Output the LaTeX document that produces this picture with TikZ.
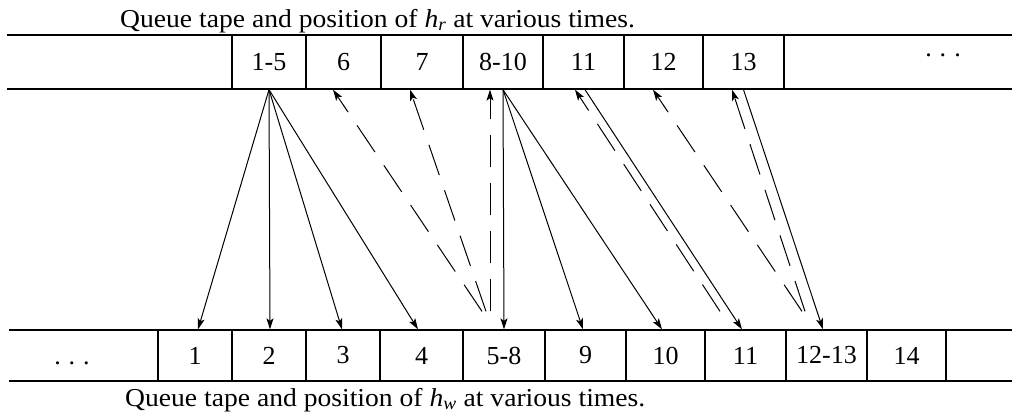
\documentclass[tikz,border=0pt]{standalone}
\usepackage{fontspec}
\setmainfont{Liberation Serif}
\newfontfamily\titlefont[FakeStretch=1.07]{Liberation Serif}
\usetikzlibrary{arrows.meta}
\begin{document}
\begin{tikzpicture}[x=1pt,y=-1pt,
  tapeline/.style={line width=1.3pt},
  cellA/.style={draw, line width=1.3pt, minimum height=54pt, inner sep=0pt, font=\fontsize{26}{29}\selectfont},
  cellB/.style={draw, line width=1.3pt, minimum height=51pt, inner sep=0pt, font=\fontsize{26}{29}\selectfont},
  wr/.style={line width=1pt, -{Stealth[length=11pt,width=7pt,inset=2.5pt]}},
  rd/.style={line width=1pt, dash pattern=on 32pt off 16pt, -{Stealth[length=11pt,width=7pt,inset=2.5pt]}},
  tapecaption/.style={anchor=base west, inner sep=0pt, font=\titlefont\fontsize{25.8}{29}\selectfont},
  dotsnode/.style={anchor=base, inner sep=0pt, font=\fontsize{26}{29}\selectfont}]
\useasboundingbox (0,0) rectangle (1012,413);
% tapes
\draw[tapeline] (7,35) -- (1012,35);
\draw[tapeline] (7,89) -- (1012,89);
\draw[tapeline] (9,330) -- (1012,330);
\draw[tapeline] (9,381) -- (1012,381);
% top cells
\node[cellA, minimum width=74pt] (t15) at (269,62) {1-5};
\node[cellA, minimum width=75pt] (t6) at (343.5,62) {6};
\node[cellA, minimum width=82pt] (t7) at (422,62) {7};
\node[cellA, minimum width=80pt] (t810) at (503,62) {8-10};
\node[cellA, minimum width=81pt] (t11) at (583.5,62) {11};
\node[cellA, minimum width=79pt] (t12) at (663.5,62) {12};
\node[cellA, minimum width=81pt] (t13) at (743.5,62) {13};
\node[dotsnode] (tdots) at (943,56) {.\hspace{8pt}.\hspace{8pt}.};
% bottom cells
\node[cellB, minimum width=74pt] (b1) at (195,355.5) {1};
\node[cellB, minimum width=74pt] (b2) at (269,355.5) {2};
\node[cellB, minimum width=74pt] (b3) at (343,355.5) {3};
\node[cellB, minimum width=83pt] (b4) at (421.5,355.5) {4};
\node[cellB, minimum width=82pt] (b58) at (504,355.5) {5-8};
\node[cellB, minimum width=81pt] (b9) at (585.5,355.5) {9};
\node[cellB, minimum width=79pt] (b10) at (665.5,355.5) {10};
\node[cellB, minimum width=81pt] (b11) at (745.5,355.5) {11};
\node[cellB, minimum width=81pt] (b1213) at (826.5,355.5) {12-13};
\node[cellB, minimum width=79pt] (b14) at (906.5,355.5) {14};
\node[dotsnode] (bdots) at (72,364) {.\hspace{8pt}.\hspace{8pt}.};
% captions
\node[tapecaption] (ctop) at (120,27) {Queue tape and position of \textit{h}\textsubscript{\textit{r}} at various times.};
\node[tapecaption] (cbot) at (125,406) {Queue tape and position of \textit{h}\textsubscript{\textit{w}} at various times.};
% solid (write) arrows
\draw[wr] (t15.south) -- ([xshift=3pt]b1.north);
\draw[wr] (t15.south) -- ([xshift=1pt]b2.north);
\draw[wr] (t15.south) -- ([xshift=-1pt]b3.north);
\draw[wr] (t15.south) -- ([xshift=-3.5pt]b4.north);
\draw[wr] (t810.south) -- (b58.north);
\draw[wr] (t810.south) -- ([xshift=-2.5pt]b9.north);
\draw[wr] (t810.south) -- ([xshift=-3.5pt]b10.north);
\draw[wr] ([xshift=1.5pt]t11.south) -- ([xshift=-3.5pt]b11.north);
\draw[wr] (t13.south) -- ([xshift=-3.5pt]b1213.north);
% dashed (read) arrows
\draw[rd] ([shift={(-22,-18)}]b58.north) -- ([xshift=-10.5pt]t6.south);
\draw[rd] ([shift={(-18,-18)}]b58.north) -- ([xshift=-12pt]t7.south);
\draw[rd] ([shift={(-14,-18)}]b58.north) -- ([xshift=-13pt]t810.south);
\draw[rd] ([shift={(-25.5,-18)}]b11.north) -- ([xshift=-8.5pt]t11.south);
\draw[rd] ([shift={(-24.5,-18)}]b1213.north) -- ([xshift=-10.5pt]t12.south);
\draw[rd] ([shift={(-21.5,-18)}]b1213.north) -- ([xshift=-11.5pt]t13.south);
\end{tikzpicture}
\end{document}
